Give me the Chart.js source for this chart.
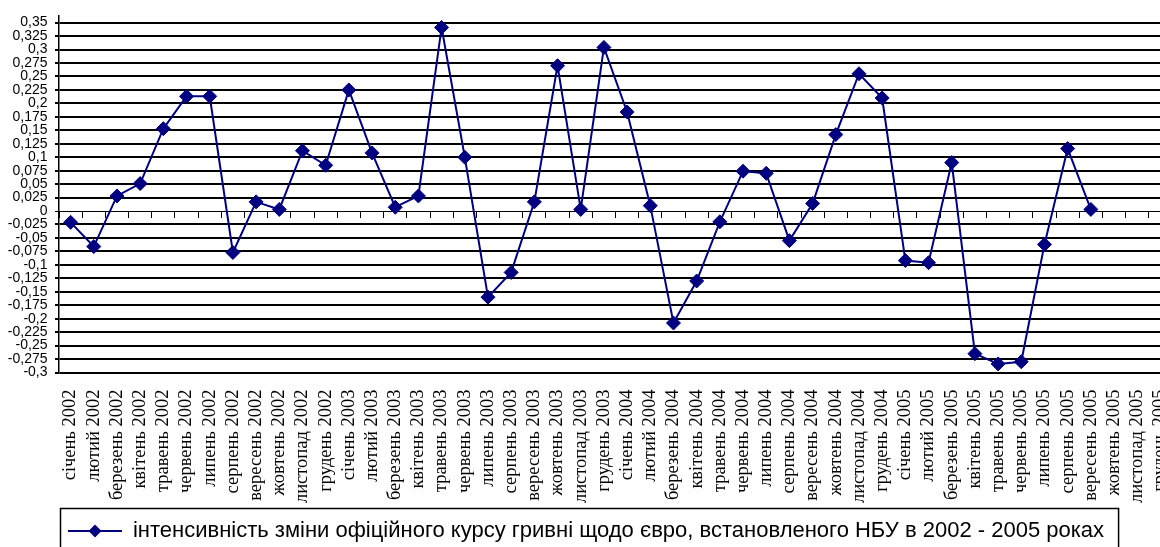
<!DOCTYPE html>
<html>
<head>
<meta charset="utf-8">
<script src="https://cdn.jsdelivr.net/npm/chart.js@4.4.1/dist/chart.umd.min.js"></script>
<style>
  html, body { margin: 0; padding: 0; overflow: hidden; background: #fff; width: 1160px; height: 547px; }
  #wrap { position: absolute; left: 0; top: 0; width: 1180px; height: 552px; }
  canvas { display: block; }
</style>
</head>
<body>
<div id="wrap"><canvas id="c" width="1180" height="552"></canvas></div>
<script>
// Month names and years that make up the category axis
const months = ['січень', 'лютий', 'березень', 'квітень', 'травень', 'червень',
                'липень', 'серпень', 'вересень', 'жовтень', 'листопад', 'грудень'];
const years = [2002, 2003, 2004, 2005];
const categories = years.flatMap(y => months.map(m => m + ' ' + y));

// Monthly change intensity of the official UAH/EUR rate (no data after вересень 2005)
const rateChange = [
  -0.021, -0.066, 0.028, 0.051, 0.153, 0.213, 0.213, -0.077, 0.017, 0.003, 0.112, 0.085,
   0.225,  0.108, 0.007, 0.028, 0.341, 0.100, -0.160, -0.114, 0.017, 0.270, 0.003, 0.304,
   0.184,  0.010, -0.208, -0.130, -0.020, 0.074, 0.070, -0.055, 0.014, 0.142, 0.255, 0.210,
  -0.092, -0.096, 0.090, -0.265, -0.284, -0.280, -0.062, 0.116, 0.003, null, null, null
];
const seriesLabel = 'інтенсивність зміни офіційного курсу гривні щодо євро, встановленого НБУ в 2002 - 2005 роках';

// Value axis ticks
const yTickValues = [
  -0.3, -0.275, -0.25, -0.225, -0.2, -0.175, -0.15, -0.125, -0.1, -0.075, -0.05, -0.025,
  0, 0.025, 0.05, 0.075, 0.1, 0.125, 0.15, 0.175, 0.2, 0.225, 0.25, 0.275, 0.3, 0.325, 0.35
];
const yMin = -0.3;
const yTop = 0.3625;   // axis line runs a little above the last labelled tick

const NAVY = '#000080';

// Legend symbol: a short line with a diamond marker
function legendSymbol() {
  const c = document.createElement('canvas');
  c.width = 54; c.height = 14;
  const g = c.getContext('2d');
  g.strokeStyle = NAVY; g.lineWidth = 2;
  g.beginPath(); g.moveTo(0, 7); g.lineTo(54, 7); g.stroke();
  g.fillStyle = NAVY;
  g.beginPath(); g.moveTo(27, 0.5); g.lineTo(33.5, 7); g.lineTo(27, 13.5); g.lineTo(20.5, 7); g.closePath(); g.fill();
  return c;
}

// Frame around the legend
const legendFrame = {
  id: 'legendFrame',
  afterDraw(chart) {
    const lg = chart.legend;
    if (!lg || !lg.legendHitBoxes || !lg.legendHitBoxes.length) return;
    const hb = lg.legendHitBoxes[0];
    const ctx = chart.ctx;
    ctx.save();
    ctx.strokeStyle = '#000';
    ctx.lineWidth = 1.5;
    ctx.strokeRect(Math.round(hb.left - 8) + 0.5, Math.round(hb.top - 12) + 0.5, hb.width + 22, hb.height + 40);
    ctx.restore();
  }
};

const fmt = v => {
  const r = Math.round(v * 1000) / 1000;
  return (r === 0 ? '0' : String(r)).replace('.', ',');
};

new Chart(document.getElementById('c'), {
  type: 'line',
  data: {
    labels: categories,
    datasets: [{
      label: seriesLabel,
      data: rateChange,
      borderColor: NAVY,
      backgroundColor: NAVY,
      borderWidth: 2,
      pointStyle: 'rectRot',
      pointRadius: 7,
      pointHoverRadius: 7,
      pointBackgroundColor: NAVY,
      pointBorderColor: NAVY,
      pointBorderWidth: 1,
      spanGaps: false,
      tension: 0
    }]
  },
  options: {
    responsive: false,
    animation: false,
    devicePixelRatio: 1,
    layout: { padding: { top: 12.7, left: 0, right: 8, bottom: 0 } },
    plugins: {
      tooltip: { enabled: false },
      legend: {
        position: 'bottom',
        labels: {
          usePointStyle: true,
          pointStyle: legendSymbol(),
          pointStyleWidth: 54,
          padding: 10,
          color: '#000',
          font: { family: 'Liberation Sans, Arial, sans-serif', size: 22 }
        }
      }
    },
    scales: {
      x: {
        type: 'category',
        offset: true,
        grid: { display: false, drawTicks: false, offset: true },
        border: { display: false },
        ticks: {
          autoSkip: false,
          minRotation: 90,
          maxRotation: 90,
          padding: 17,
          color: '#000',
          font: { family: 'Liberation Serif, Times New Roman, serif', size: 18.5 }
        },
        afterFit(scale) {
          scale.height = 137.5;
          scale.paddingLeft = 0;
          scale.paddingRight = 0;
        }
      },
      x2: {
        type: 'category',
        labels: categories,
        position: { y: 0 },
        offset: true,
        grid: { drawOnChartArea: false, drawTicks: true, tickLength: 6, offset: true, color: '#000', lineWidth: 1 },
        border: { display: true, color: '#000', width: 1 },
        ticks: { display: false },
        afterFit(scale) { scale.paddingLeft = 0; scale.paddingRight = 0; }
      },
      y: {
        min: yMin,
        max: yTop,
        afterBuildTicks(scale) {
          scale.ticks = yTickValues.map(v => ({ value: v }));
        },
        afterFit(scale) { scale.width = 59; },
        grid: {
          color: '#000',
          lineWidth: ctx => (ctx.tick && Math.abs(ctx.tick.value) < 1e-9) ? 1 : 2,
          drawTicks: true,
          tickLength: 4
        },
        border: { display: true, color: '#000', width: 1.5 },
        ticks: {
          autoSkip: false,
          padding: 7.5,
          color: '#000',
          font: { family: 'Liberation Sans, Arial, sans-serif', size: 14 },
          callback: v => fmt(v)
        }
      }
    }
  },
  plugins: [legendFrame]
});
</script>
</body>
</html>
